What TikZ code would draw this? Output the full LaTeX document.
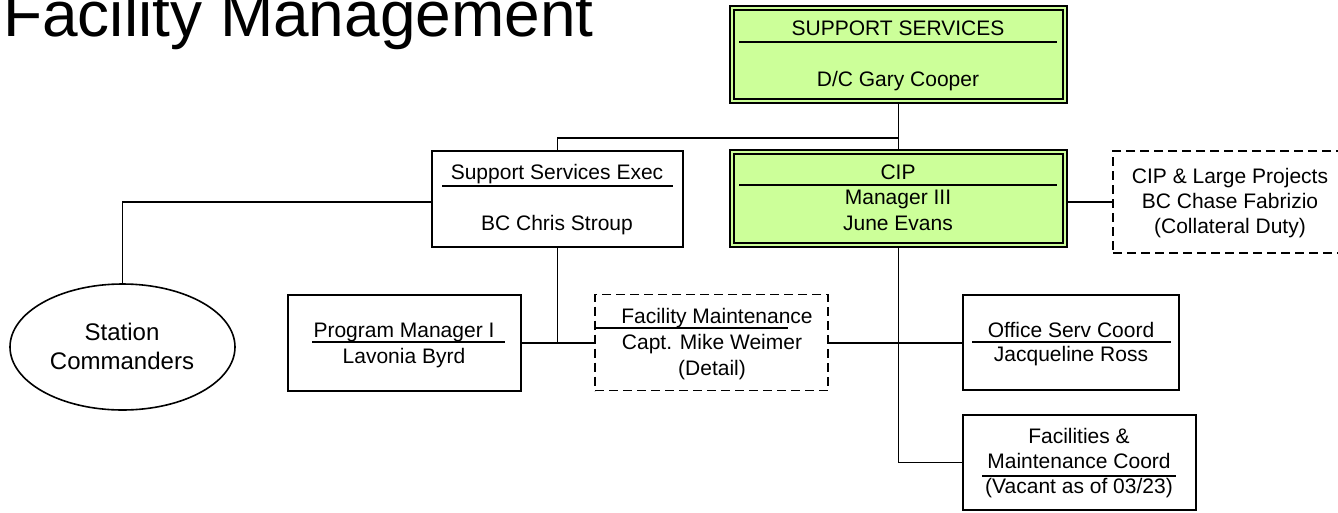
\documentclass[tikz,border=0pt]{standalone}
\usepackage{fontspec}
\setmainfont{Liberation Sans}
\usetikzlibrary{calc,shapes.geometric}
\definecolor{boxgreen}{HTML}{CCFF99}
\tikzset{
  lw/.style={line width=1.6pt},
  plainbox/.style={draw, lw, rectangle, inner sep=0pt},
  greenbox/.style={plainbox, fill=boxgreen},
  dashbox/.style={plainbox, dash pattern=on 9pt off 5pt},
  conn/.style={draw, lw},
  rule/.style={draw, lw},
  txt/.style={inner sep=0pt, anchor=base, font=\fontsize{21}{25}\selectfont},
  bigtxt/.style={inner sep=0pt, anchor=base, font=\fontsize{24}{29}\selectfont},
}
\begin{document}
\begin{tikzpicture}[x=1pt,y=-1pt]
\useasboundingbox (0,0) rectangle (1338,512);

% title
\node[inner sep=0pt, anchor=base west, font=\fontsize{64}{72}\selectfont] (title) at (3,36) {Facility Management};

% boxes
\node[greenbox, minimum width=337pt, minimum height=97pt] (ss) at (898.5,54.5) {};
\node[greenbox, minimum width=337pt, minimum height=97pt] (cip) at (898.5,198.5) {};
\draw[lw] ($(ss.north west)+(5,5)$) rectangle ($(ss.south east)+(-5,-5)$);
\draw[lw] ($(cip.north west)+(5,5)$) rectangle ($(cip.south east)+(-5,-5)$);
\node[plainbox, minimum width=251pt, minimum height=96pt] (sse) at (557.5,199) {};
\node[dashbox, minimum width=254pt, minimum height=102pt] (large) at (1240,202) {};
\node[draw, lw, ellipse, inner sep=0pt, minimum width=225pt, minimum height=126pt] (sc) at (122.5,347) {};
\node[plainbox, minimum width=233pt, minimum height=96pt] (pm) at (404.5,343) {};
\node[dashbox, minimum width=233pt, minimum height=96pt] (fm) at (711.5,342.5) {};
\node[plainbox, minimum width=216pt, minimum height=95pt] (osc) at (1071,342.5) {};
\node[plainbox, minimum width=233pt, minimum height=95pt] (fmc) at (1079.5,462.5) {};

% rules under titles
\draw[rule] (739,42) -- (1057,42);
\draw[rule] (739,185) -- (1057,185);
\draw[rule] (442,186) -- (673,186);
\draw[rule] (312,342) -- (505,342);
\draw[rule] (595,328) -- (788,328);
\draw[rule] (972,342) -- (1171,342);
\draw[rule] (982,476) -- (1176,476);

% texts
\node[txt] (t1) at (898,35) {SUPPORT SERVICES};
\node[txt] (t2) at (898,86) {D/C Gary Cooper};
\node[txt] (t3) at (898,179) {CIP};
\node[txt] (t4) at (898,204) {Manager III};
\node[txt] (t5) at (898,230) {June Evans};
\node[txt] (t6) at (557,179) {Support Services Exec};
\node[txt] (t7) at (557,230) {BC Chris Stroup};
\node[txt] (t8) at (1230,183) {CIP \& Large Projects};
\node[txt] (t9) at (1230,208) {BC Chase Fabrizio};
\node[txt] (t10) at (1230,233) {(Collateral Duty)};
\node[bigtxt] (t11) at (122,340) {Station};
\node[bigtxt] (t12) at (122,369) {Commanders};
\node[txt] (t13) at (404,337) {Program Manager I};
\node[txt] (t14) at (404,363) {Lavonia Byrd};
\node[txt] (t15) at (717,323) {Facility Maintenance};
\node[txt] (t16) at (712,349) {Capt. Mike Weimer};
\node[txt] (t17) at (712,375) {(Detail)};
\node[txt] (t18) at (1071,337) {Office Serv Coord};
\node[txt] (t19) at (1071,361) {Jacqueline Ross};
\node[txt] (t20) at (1079,443) {Facilities \&};
\node[txt] (t21) at (1079,468) {Maintenance Coord};
\node[txt] (t22) at (1079,493) {(Vacant as of 03/23)};

% connectors
\coordinate (j1) at (898.5,138);
\draw[conn] (ss.south) -- (cip.north);
\draw[conn] (j1) -| (sse.north);
\draw[conn] ($(sse.west)+(0,3)$) -| (sc.north);
\draw[conn] (sse.south) -- (sse.south |- pm.east);
\draw[conn] (pm.east) -- (fm.west |- pm.east);
\draw[conn] (fm.east |- pm.east) -- (osc.west |- pm.east);
\draw[conn] (cip.south) |- (fmc.west);
\draw[conn] (large.west -| cip.east) -- (large.west);
\end{tikzpicture}
\end{document}
